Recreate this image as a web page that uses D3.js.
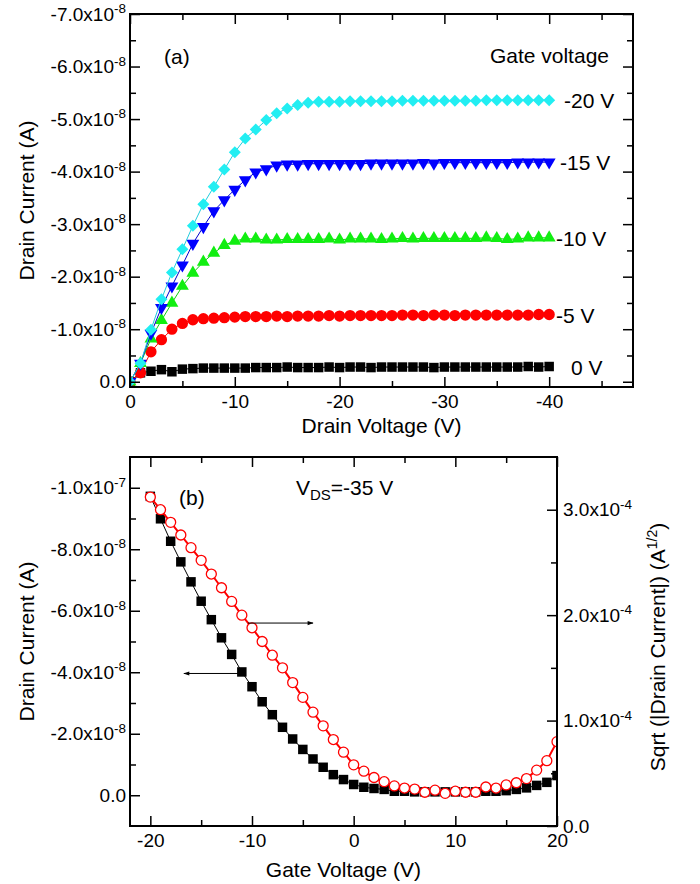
<!DOCTYPE html>
<html>
  <head>
    <meta charset="utf-8">
    <title>Transistor characteristics</title>
    <script src="https://cdn.jsdelivr.net/npm/d3@7"></script>
    <style>
      body { margin: 0; background: #fff; }
      text { font-family: "Liberation Sans", Arial, sans-serif; fill: #000; }
    </style>
  </head>
  <body>
    <script type="text/javascript">
      // (a) output curves, drain current in units of 1e-8 A
      var vd = [0, -1, -2, -3, -4, -5, -6, -7, -8, -9, -10, -11, -12, -13, -14, -15, -16, -17, -18, -19, -20,
                -21, -22, -23, -24, -25, -26, -27, -28, -29, -30, -31, -32, -33, -34, -35, -36, -37, -38, -39, -40];
      var id0V = [0, -0.17, -0.20, -0.23, -0.19, -0.24, -0.25, -0.26, -0.26, -0.26, -0.26, -0.26, -0.27, -0.27, -0.27, -0.28,
                  -0.27, -0.27, -0.27, -0.28, -0.27, -0.28, -0.28, -0.27, -0.28, -0.28, -0.28, -0.28, -0.28, -0.27, -0.28,
                  -0.28, -0.28, -0.28, -0.28, -0.28, -0.28, -0.28, -0.29, -0.28, -0.29];
      var idM5V = [0, -0.17, -0.57, -0.80, -1.00, -1.11, -1.18, -1.20, -1.21, -1.22, -1.23, -1.24, -1.24, -1.24, -1.25, -1.24,
                   -1.25, -1.25, -1.25, -1.26, -1.25, -1.26, -1.26, -1.26, -1.26, -1.26, -1.27, -1.27, -1.26, -1.27, -1.27,
                   -1.26, -1.27, -1.27, -1.27, -1.27, -1.27, -1.27, -1.27, -1.28, -1.28];
      var idM10V = [0, -0.35, -0.82, -1.17, -1.50, -1.82, -2.07, -2.28, -2.45, -2.60, -2.68, -2.72, -2.72, -2.70, -2.70, -2.71,
                    -2.71, -2.71, -2.71, -2.72, -2.70, -2.72, -2.72, -2.72, -2.71, -2.72, -2.73, -2.72, -2.73, -2.73, -2.73,
                    -2.73, -2.73, -2.73, -2.74, -2.73, -2.71, -2.72, -2.74, -2.74, -2.74];
      var idM15V = [0, -0.35, -0.92, -1.41, -1.82, -2.22, -2.63, -2.95, -3.25, -3.46, -3.66, -3.84, -3.99, -4.05, -4.12, -4.14,
                    -4.14, -4.15, -4.15, -4.15, -4.15, -4.15, -4.15, -4.16, -4.16, -4.16, -4.16, -4.16, -4.17, -4.16, -4.17,
                    -4.17, -4.17, -4.17, -4.17, -4.17, -4.17, -4.18, -4.18, -4.18, -4.18];
      var idM20V = [0, -0.35, -0.99, -1.57, -2.08, -2.52, -2.97, -3.38, -3.71, -4.04, -4.37, -4.63, -4.80, -4.98, -5.11, -5.20,
                    -5.27, -5.31, -5.33, -5.33, -5.33, -5.34, -5.34, -5.34, -5.34, -5.34, -5.35, -5.35, -5.35, -5.35, -5.35,
                    -5.35, -5.35, -5.35, -5.36, -5.36, -5.36, -5.36, -5.36, -5.36, -5.36];
      var gateLabels = ["0 V", "-5 V", "-10 V", "-15 V", "-20 V"];

      // (b) transfer curve at VDS = -35 V
      var vg = [-20, -19, -18, -17, -16, -15, -14, -13, -12, -11, -10, -9, -8, -7, -6, -5, -4, -3, -2, -1, 0,
                1, 2, 3, 4, 5, 6, 7, 8, 9, 10, 11, 12, 13, 14, 15, 16, 17, 18, 19, 20];
      // drain current, 1e-8 A
      var idTransfer = [-9.72, -8.99, -8.26, -7.59, -6.94, -6.31, -5.71, -5.12, -4.58, -4.01, -3.53, -3.04, -2.62, -2.21,
                        -1.83, -1.49, -1.18, -0.91, -0.67, -0.51, -0.35, -0.26, -0.22, -0.19, -0.13, -0.13, -0.11, -0.11,
                        -0.11, -0.11, -0.11, -0.11, -0.11, -0.13, -0.13, -0.15, -0.19, -0.24, -0.32, -0.42, -0.64];
      // sqrt(|Id|), 1e-4 A^1/2
      var sqrtId = [3.12, 3.00, 2.88, 2.76, 2.64, 2.52, 2.39, 2.26, 2.13, 2.00, 1.88, 1.75, 1.62, 1.50, 1.36, 1.22, 1.08,
                    0.95, 0.82, 0.70, 0.58, 0.52, 0.46, 0.42, 0.38, 0.36, 0.35, 0.32, 0.34, 0.31, 0.33, 0.32, 0.32, 0.37,
                    0.36, 0.39, 0.41, 0.45, 0.53, 0.62, 0.80];

      // tick values and labels
      var aXTicks = [0, -10, -20, -30, -40];
      var aXMinor = [-5, -15, -25, -35, -45];
      var aYTicks = [0, -1, -2, -3, -4, -5, -6, -7];
      var aYLabels = ["0.0", "-1.0x10^-8", "-2.0x10^-8", "-3.0x10^-8", "-4.0x10^-8", "-5.0x10^-8", "-6.0x10^-8", "-7.0x10^-8"];
      var aYMinor = [-0.5, -1.5, -2.5, -3.5, -4.5, -5.5, -6.5];
      var bXTicks = [-20, -10, 0, 10, 20];
      var bXMinor = [-15, -5, 5, 15];
      var bYTicks = [0, -2, -4, -6, -8, -10];
      var bYLabels = ["0.0", "-2.0x10^-8", "-4.0x10^-8", "-6.0x10^-8", "-8.0x10^-8", "-1.0x10^-7"];
      var bYMinor = [-1, -3, -5, -7, -9];
      var bY2Ticks = [0, 1, 2, 3];
      var bY2Labels = ["0.0", "1.0x10^-4", "2.0x10^-4", "3.0x10^-4"];
      var bY2Minor = [0.5, 1.5, 2.5];

      var w = 700;
      var h = 884;
      var svg = d3.select("body").append("svg")
                  .attr("width", w)
                  .attr("height", h);

      var defs = svg.append("defs");
      defs.append("marker")
          .attr("id", "arrow")
          .attr("viewBox", "0 0 10 10")
          .attr("refX", 9).attr("refY", 5)
          .attr("markerWidth", 10).attr("markerHeight", 6)
          .attr("markerUnits", "userSpaceOnUse")
          .attr("orient", "auto")
          .append("path").attr("d", "M0,1.5 L10,5 L0,8.5 Z").attr("fill", "#000");

      // put a "x10^-8" label in a tick text
      function supLabel(sel, str) {
        sel.text(null);
        var parts = str.split("^");
        sel.append("tspan").text(parts[0]);
        if (parts.length > 1) {
          sel.append("tspan").attr("font-size", 13.5).attr("dy", -7.5).text(parts[1]);
        }
      }

      function styleAxis(g) {
        g.select(".domain").remove();
        g.selectAll("line").attr("stroke", "#000").attr("stroke-width", 1.5);
        g.selectAll("text").attr("font-size", 19).attr("font-family", "Liberation Sans, Arial, sans-serif");
      }

      function drawAxis(g, axisFn, scale, majors, minors, labels, pad) {
        var major = axisFn(scale).tickValues(majors).tickSizeInner(-10).tickSizeOuter(0).tickPadding(pad);
        if (labels === null) major.tickFormat("");
        else major.tickFormat(function(d, i) { return labels[i]; });
        var gm = g.append("g").call(major);
        styleAxis(gm);
        if (labels !== null) {
          gm.selectAll(".tick text").each(function(d, i) { supLabel(d3.select(this), labels[i]); });
        }
        var gn = g.append("g").call(axisFn(scale).tickValues(minors).tickSizeInner(-6).tickSizeOuter(0).tickFormat(""));
        styleAxis(gn);
        return gm;
      }

      function frame(L, R, T, B) {
        svg.append("rect")
           .attr("x", L).attr("y", T)
           .attr("width", R - L).attr("height", B - T)
           .attr("fill", "none").attr("stroke", "#000").attr("stroke-width", 2);
      }

      // ---------- panel (a) ----------
      var aL = 130, aR = 633, aT = 14, aB = 387;
      var xA = d3.scaleLinear().domain([0, -48]).range([aL, aR]);
      var yA = d3.scaleLinear().domain([0.1, -7]).range([aB, aT]);

      defs.append("clipPath").attr("id", "clipA")
          .append("rect").attr("x", aL).attr("y", aT).attr("width", aR - aL).attr("height", aB - aT);

      var seriesA = [
        {vals: id0V, color: "#000000", line: "#000000", sym: d3.symbolSquare, size: 90, rot: 0, label: gateLabels[0]},
        {vals: idM5V, color: "#ff0000", line: "#ff0000", sym: d3.symbolCircle, size: 100, rot: 0, label: gateLabels[1]},
        {vals: idM10V, color: "#11ee11", line: "#11cc11", sym: d3.symbolTriangle, size: 72, rot: 0, label: gateLabels[2]},
        {vals: idM15V, color: "#0000ff", line: "#0000cc", sym: d3.symbolTriangle, size: 72, rot: 180, label: gateLabels[3]},
        {vals: idM20V, color: "#22eef2", line: "#22ccdd", sym: d3.symbolSquare, size: 72, rot: 45, label: gateLabels[4]}
      ];

      var plotA = svg.append("g").attr("clip-path", "url(#clipA)");
      seriesA.forEach(function(s) {
        var pts = vd.map(function(v, i) { return [v, s.vals[i]]; });
        plotA.append("path")
             .datum(pts)
             .attr("fill", "none")
             .attr("stroke", s.line)
             .attr("stroke-width", 1)
             .attr("d", d3.line().x(function(p) { return xA(p[0]); }).y(function(p) { return yA(p[1]); }));
        plotA.selectAll(null)
             .data(pts)
             .enter()
             .append("path")
             .attr("d", d3.symbol().type(s.sym).size(s.size))
             .attr("fill", s.color)
             .attr("transform", function(p) {
               return "translate(" + xA(p[0]) + "," + yA(p[1]) + ") rotate(" + s.rot + ")";
             });
      });

      drawAxis(svg.append("g").attr("transform", "translate(0," + aB + ")"), d3.axisBottom, xA, aXTicks, aXMinor, aXTicks.map(String), 8);
      drawAxis(svg.append("g").attr("transform", "translate(0," + aT + ")"), d3.axisTop, xA, aXTicks, aXMinor, null, 3);
      drawAxis(svg.append("g").attr("transform", "translate(" + aL + ",0)"), d3.axisLeft, yA, aYTicks, aYMinor, aYLabels, 4);
      drawAxis(svg.append("g").attr("transform", "translate(" + aR + ",0)"), d3.axisRight, yA, aYTicks, aYMinor, null, 3);
      frame(aL, aR, aT, aB);

      svg.append("text").attr("x", 164).attr("y", 64).attr("font-size", 21).text("(a)");
      svg.append("text").attr("x", 609).attr("y", 63).attr("font-size", 21)
         .attr("text-anchor", "end").text("Gate voltage");
      var labelX = [571, 556, 556, 560, 564];
      seriesA.forEach(function(s, i) {
        var last = s.vals[s.vals.length - 1];
        svg.append("text")
           .attr("x", labelX[i])
           .attr("y", yA(last) + 8)
           .attr("font-size", 21)
           .text(s.label);
      });

      svg.append("text")
         .attr("x", (aL + aR) / 2).attr("y", 433)
         .attr("text-anchor", "middle").attr("font-size", 21)
         .text("Drain Voltage (V)");
      svg.append("text")
         .attr("transform", "translate(34," + (aT + aB) / 2 + ") rotate(-90)")
         .attr("text-anchor", "middle").attr("font-size", 21)
         .text("Drain Current (A)");

      // ---------- panel (b) ----------
      var bL = 130, bR = 557, bT = 457, bB = 826;
      var xB = d3.scaleLinear().domain([-22, 20]).range([bL, bR]);
      var yB = d3.scaleLinear().domain([1, -11]).range([bB, bT]);
      var yB2 = d3.scaleLinear().domain([0, 3.5]).range([bB, bT]);

      defs.append("clipPath").attr("id", "clipB")
          .append("rect").attr("x", bL).attr("y", bT).attr("width", bR - bL).attr("height", bB - bT);
      var plotB = svg.append("g").attr("clip-path", "url(#clipB)");

      var ptsId = vg.map(function(v, i) { return [v, idTransfer[i]]; });
      var ptsSq = vg.map(function(v, i) { return [v, sqrtId[i]]; });

      plotB.append("path")
           .datum(ptsId)
           .attr("fill", "none").attr("stroke", "#000").attr("stroke-width", 1)
           .attr("d", d3.line().x(function(p) { return xB(p[0]); }).y(function(p) { return yB(p[1]); }));
      plotB.selectAll(null)
           .data(ptsId)
           .enter()
           .append("path")
           .attr("d", d3.symbol().type(d3.symbolSquare).size(90))
           .attr("fill", "#000")
           .attr("transform", function(p) { return "translate(" + xB(p[0]) + "," + yB(p[1]) + ")"; });

      plotB.append("path")
           .datum(ptsSq)
           .attr("fill", "none").attr("stroke", "#ff0000").attr("stroke-width", 2)
           .attr("d", d3.line().x(function(p) { return xB(p[0]); }).y(function(p) { return yB2(p[1]); }));
      plotB.selectAll(null)
           .data(ptsSq)
           .enter()
           .append("circle")
           .attr("cx", function(p) { return xB(p[0]); })
           .attr("cy", function(p) { return yB2(p[1]); })
           .attr("r", 5)
           .attr("fill", "#fff")
           .attr("stroke", "#ff0000")
           .attr("stroke-width", 1.3);

      drawAxis(svg.append("g").attr("transform", "translate(0," + bB + ")"), d3.axisBottom, xB, bXTicks, bXMinor, bXTicks.map(String), 8);
      drawAxis(svg.append("g").attr("transform", "translate(0," + bT + ")"), d3.axisTop, xB, bXTicks, bXMinor, null, 3);
      drawAxis(svg.append("g").attr("transform", "translate(" + bL + ",0)"), d3.axisLeft, yB, bYTicks, bYMinor, bYLabels, 4);
      drawAxis(svg.append("g").attr("transform", "translate(" + bR + ",0)"), d3.axisRight, yB2, bY2Ticks, bY2Minor, bY2Labels, 6);
      frame(bL, bR, bT, bB);

      // arrows pointing to the axis each curve belongs to
      svg.append("line")
         .attr("x1", xB(-10.4)).attr("y1", yB(-5.6))
         .attr("x2", xB(-4.0)).attr("y2", yB(-5.6))
         .attr("stroke", "#000").attr("stroke-width", 1)
         .attr("marker-end", "url(#arrow)");
      svg.append("line")
         .attr("x1", xB(-11.2)).attr("y1", yB(-3.96))
         .attr("x2", xB(-16.7)).attr("y2", yB(-3.96))
         .attr("stroke", "#000").attr("stroke-width", 1)
         .attr("marker-end", "url(#arrow)");

      svg.append("text").attr("x", 179).attr("y", 505).attr("font-size", 21).text("(b)");
      var vds = svg.append("text").attr("x", 296).attr("y", 495).attr("font-size", 21);
      vds.append("tspan").text("V");
      vds.append("tspan").attr("font-size", 15).attr("dy", 5).text("DS");
      vds.append("tspan").attr("dy", -5).text("=-35 V");

      svg.append("text")
         .attr("x", (bL + bR) / 2).attr("y", 877)
         .attr("text-anchor", "middle").attr("font-size", 21)
         .text("Gate Voltage (V)");
      svg.append("text")
         .attr("transform", "translate(34," + (bT + bB) / 2 + ") rotate(-90)")
         .attr("text-anchor", "middle").attr("font-size", 21)
         .text("Drain Current (A)");
      var rt = svg.append("text")
         .attr("transform", "translate(665," + 647 + ") rotate(-90)")
         .attr("text-anchor", "middle").attr("font-size", 21);
      rt.append("tspan").text("Sqrt (|Drain Current|) (A");
      rt.append("tspan").attr("font-size", 14).attr("dy", -8).text("1/2");
      rt.append("tspan").attr("dy", 8).text(")");
    </script>
  </body>
</html>
